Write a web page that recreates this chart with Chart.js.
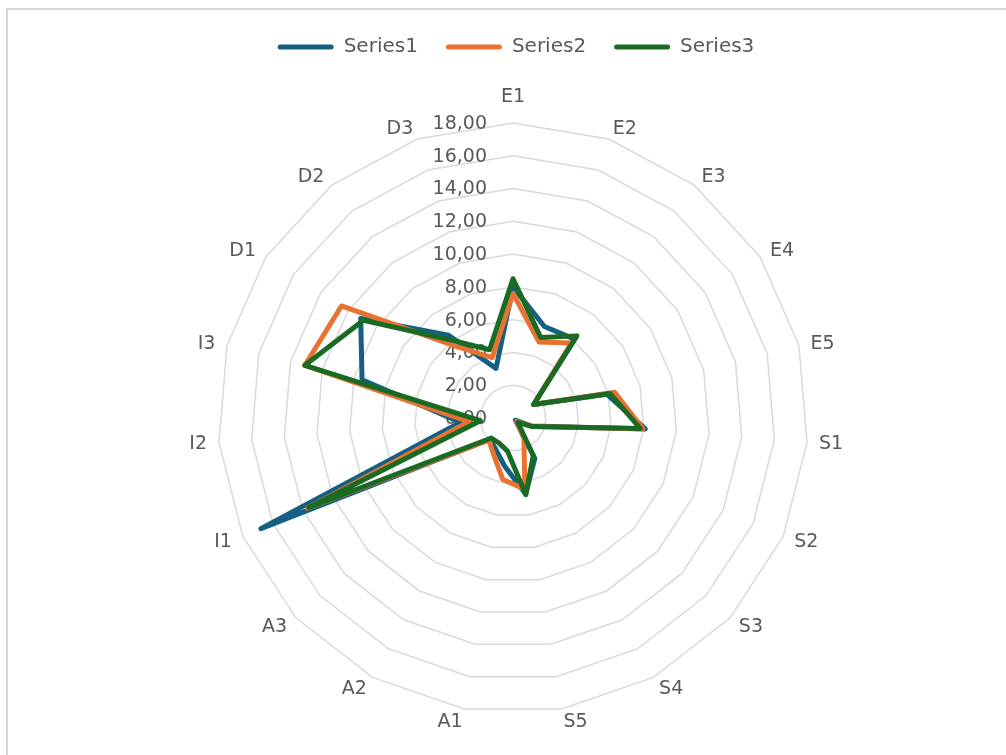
<!DOCTYPE html>
<html>
<head>
<meta charset="utf-8">
<script src="https://cdn.jsdelivr.net/npm/chart.js@4.4.1/dist/chart.umd.min.js"></script>
<style>
  html, body { margin: 0; padding: 0; background: #fff; }
  #frame { position: absolute; left: 6px; top: 8px; width: 1200px; height: 1000px; border: 2px solid #d9d9d9; }
  #wrap { position: absolute; left: 0; top: 0; width: 1006px; height: 755px; }
</style>
</head>
<body>
<div id="frame"></div>
<div id="wrap"><canvas id="radarChart" width="1006" height="755"></canvas></div>
<script>
const categories = ['E1','E2','E3','E4','E5','S1','S2','S3','S4','S5','A1','A2','A3','I1','I2','I3','D1','D2','D3'];

const series1 = [8.0, 5.9, 6.1, 1.5, 5.9, 8.1, 1.2, 0.2, 2.8, 4.7, 3.0, 2.2, 1.9, 16.8, 3.2, 9.5, 11.1, 6.4, 3.2];
const series2 = [7.6, 4.9, 5.8, 1.5, 6.4, 7.95, 1.3, 0.3, 1.4, 4.4, 3.8, 2.5, 2.0, 13.7, 2.7, 13.1, 12.5, 5.5, 3.9];
const series3 = [8.5, 5.2, 6.35, 1.5, 6.1, 7.8, 1.3, 0.4, 2.6, 4.75, 2.05, 1.75, 1.8, 13.6, 2.0, 13.1, 10.9, 6.0, 4.4];

const tickValues = [0, 2, 4, 6, 8, 10, 12, 14, 16, 18];
const tickLabels = ['0,00','2,00','4,00','6,00','8,00','10,00','12,00','14,00','16,00','18,00'];

const textColor = '#595959';
const labelFont = '19px "DejaVu Sans"';

// tick values left of the axis and category names round the outside, Excel style
const axisText = {
  id: 'axisText',
  beforeDatasetsDraw(chart) {
    const s = chart.scales.r;
    const ctx = chart.ctx;
    ctx.save();
    ctx.font = labelFont;
    ctx.fillStyle = textColor;
    ctx.textAlign = 'right';
    ctx.textBaseline = 'middle';
    tickValues.forEach((v, i) => {
      ctx.fillText(tickLabels[i], s.xCenter - 26, s.yCenter - s.getDistanceFromCenterForValue(v) + 1);
    });

    categories.forEach((c, i) => {
      const a = s.getIndexAngle(i);
      const p = s.getPointPosition(i, s.drawingArea + 12);
      const sin = Math.sin(a);
      let y = p.y + 1;
      if (Math.abs(sin) < 0.01) {
        ctx.textAlign = 'center';
        y = Math.cos(a) > 0 ? p.y - 14 : p.y + 14;
      } else {
        ctx.textAlign = sin > 0 ? 'left' : 'right';
      }
      ctx.fillText(c, p.x, y);
    });
    ctx.restore();
  }
};

const ctx = document.getElementById('radarChart').getContext('2d');

new Chart(ctx, {
  type: 'radar',
  data: {
    labels: categories,
    datasets: [
      { label: 'Series1', data: series1, borderColor: '#156082', backgroundColor: '#156082', order: 2, clip: false },
      { label: 'Series2', data: series2, borderColor: '#E97132', backgroundColor: '#E97132', order: 1, clip: false },
      { label: 'Series3', data: series3, borderColor: '#196B24', backgroundColor: '#196B24', order: 0, clip: false }
    ]
  },
  options: {
    responsive: false,
    animation: false,
    layout: { padding: { top: 9, left: 26 } },
    elements: {
      line: { borderWidth: 5, fill: false, tension: 0, borderJoinStyle: 'round', borderCapStyle: 'round' },
      point: { radius: 0, hoverRadius: 0 }
    },
    scales: {
      r: {
        min: 0,
        max: 18,
        ticks: { stepSize: 2, display: false },
        pointLabels: { display: false },
        angleLines: { display: false },
        grid: { color: '#d9d9d9', lineWidth: 1.5 },
        afterFit(s) {
          s.xCenter = 513;
          s.yCenter = 418;
          s.drawingArea = 295;
        }
      }
    },
    plugins: {
      tooltip: { enabled: false },
      legend: {
        position: 'top',
        labels: {
          sort: (a, b) => a.datasetIndex - b.datasetIndex,
          boxWidth: 56,
          boxHeight: 5,
          useBorderRadius: true,
          borderRadius: 2.5,
          padding: 28,
          color: textColor,
          font: { family: 'DejaVu Sans', size: 20 },
          generateLabels: chart =>
            Chart.defaults.plugins.legend.labels.generateLabels(chart).map(it => Object.assign(it, { lineWidth: 0 }))
        }
      }
    }
  },
  plugins: [axisText]
});
</script>
</body>
</html>
